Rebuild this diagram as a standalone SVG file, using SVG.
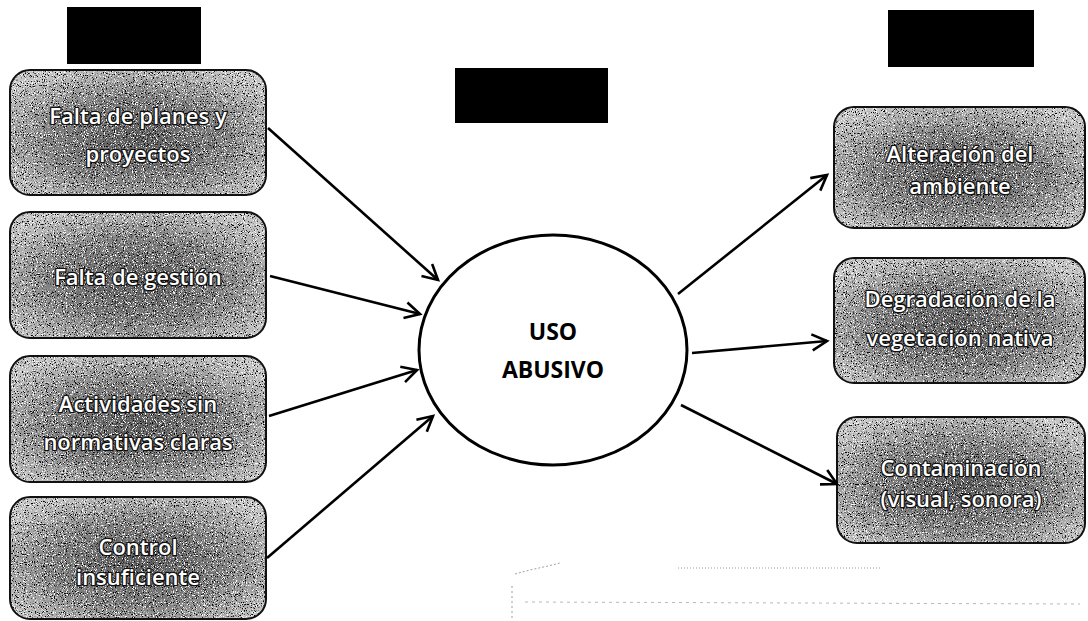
<svg xmlns="http://www.w3.org/2000/svg" width="1088" height="621" viewBox="0 0 1088 621">
<style>
.box{stroke:#111;stroke-width:2}
.lbl{font-family:"Open Sans","Liberation Sans",sans-serif;font-size:22px;font-weight:600;fill:#fff;stroke:#111;stroke-width:2.6;paint-order:stroke;stroke-linejoin:round;text-anchor:middle;dominant-baseline:central}
.conn line{stroke:#000;stroke-width:2.6;fill:none}
.ctr{font-family:"Open Sans","Liberation Sans",sans-serif;font-size:23px;font-weight:bold;fill:#000;text-anchor:middle}
</style>
<defs>
<radialGradient id="g" cx="50%" cy="55%" r="62%">
<stop offset="0" stop-color="#5a5a5a"/>
<stop offset="0.55" stop-color="#808080"/>
<stop offset="1" stop-color="#c4c4c4"/>
</radialGradient>
<filter id="wn" x="0" y="0" width="1" height="1">
<feTurbulence type="fractalNoise" baseFrequency="0.9" numOctaves="2" seed="4" result="n"/>
<feColorMatrix in="n" type="matrix" values="0 0 0 0 1 0 0 0 0 1 0 0 0 0 1 7 0 0 0 -3.9" result="w"/>
<feComposite in="w" in2="SourceGraphic" operator="in"/>
</filter>
<filter id="bn" x="0" y="0" width="1" height="1">
<feTurbulence type="fractalNoise" baseFrequency="0.9" numOctaves="2" seed="9" result="n"/>
<feColorMatrix in="n" type="matrix" values="0 0 0 0 0 0 0 0 0 0 0 0 0 0 0 0 7 0 0 -4.1" result="b"/>
<feComposite in="b" in2="SourceGraphic" operator="in"/>
</filter>
<marker id="ah" markerUnits="userSpaceOnUse" markerWidth="40" markerHeight="40" viewBox="-20 -20 40 40" refX="0" refY="0" orient="auto">
<path d="M-15,-8 L0,0 L-15,8" fill="none" stroke="#000" stroke-width="2.6" stroke-linejoin="miter"/>
</marker>
</defs>
<rect width="1088" height="621" fill="#fff"/>

<g id="heading-left"><rect x="67" y="7" width="134" height="57" fill="#000"/></g>
<g id="heading-center"><rect x="455" y="68" width="153" height="55" fill="#000"/></g>
<g id="heading-right"><rect x="888" y="10" width="146" height="57" fill="#000"/></g>

<g id="cause1">
<rect x="10" y="70" width="256" height="125" rx="20" fill="url(#g)"/>
<rect x="10" y="70" width="256" height="125" rx="20" filter="url(#wn)"/>
<rect x="10" y="70" width="256" height="125" rx="20" filter="url(#bn)"/>
<rect class="box" x="10" y="70" width="256" height="125" rx="20" fill="none"/>
<text class="lbl" x="138" y="115">Falta de planes y</text>
<text class="lbl" x="138" y="153">proyectos</text>
</g>
<g id="cause2">
<rect x="10" y="212" width="256" height="126" rx="20" fill="url(#g)"/>
<rect x="10" y="212" width="256" height="126" rx="20" filter="url(#wn)"/>
<rect x="10" y="212" width="256" height="126" rx="20" filter="url(#bn)"/>
<rect class="box" x="10" y="212" width="256" height="126" rx="20" fill="none"/>
<text class="lbl" x="138" y="276">Falta de gestión</text>
</g>
<g id="cause3">
<rect x="10" y="356" width="256" height="126" rx="20" fill="url(#g)"/>
<rect x="10" y="356" width="256" height="126" rx="20" filter="url(#wn)"/>
<rect x="10" y="356" width="256" height="126" rx="20" filter="url(#bn)"/>
<rect class="box" x="10" y="356" width="256" height="126" rx="20" fill="none"/>
<text class="lbl" x="138" y="403">Actividades sin</text>
<text class="lbl" x="138" y="441">normativas claras</text>
</g>
<g id="cause4">
<rect x="10" y="497" width="256" height="122" rx="20" fill="url(#g)"/>
<rect x="10" y="497" width="256" height="122" rx="20" filter="url(#wn)"/>
<rect x="10" y="497" width="256" height="122" rx="20" filter="url(#bn)"/>
<rect class="box" x="10" y="497" width="256" height="122" rx="20" fill="none"/>
<text class="lbl" x="138" y="546">Control</text>
<text class="lbl" x="138" y="576">insuficiente</text>
</g>

<g id="center">
<ellipse cx="553" cy="350" rx="134" ry="115" fill="#fff" stroke="#000" stroke-width="3"/>
<text class="ctr" x="553" y="340">USO</text>
<text class="ctr" x="553" y="378">ABUSIVO</text>
</g>

<g id="effect1">
<rect x="834" y="107" width="251" height="121" rx="20" fill="url(#g)"/>
<rect x="834" y="107" width="251" height="121" rx="20" filter="url(#wn)"/>
<rect x="834" y="107" width="251" height="121" rx="20" filter="url(#bn)"/>
<rect class="box" x="834" y="107" width="251" height="121" rx="20" fill="none"/>
<text class="lbl" x="960" y="153">Alteración del</text>
<text class="lbl" x="960" y="185">ambiente</text>
</g>
<g id="effect2">
<rect x="834" y="258" width="251" height="125" rx="20" fill="url(#g)"/>
<rect x="834" y="258" width="251" height="125" rx="20" filter="url(#wn)"/>
<rect x="834" y="258" width="251" height="125" rx="20" filter="url(#bn)"/>
<rect class="box" x="834" y="258" width="251" height="125" rx="20" fill="none"/>
<text class="lbl" x="960" y="298">Degradación de la</text>
<text class="lbl" x="960" y="337">vegetación nativa</text>
</g>
<g id="effect3">
<rect x="837" y="417" width="248" height="126" rx="20" fill="url(#g)"/>
<rect x="837" y="417" width="248" height="126" rx="20" filter="url(#wn)"/>
<rect x="837" y="417" width="248" height="126" rx="20" filter="url(#bn)"/>
<rect class="box" x="837" y="417" width="248" height="126" rx="20" fill="none"/>
<text class="lbl" x="961" y="467">Contaminación</text>
<text class="lbl" x="961" y="498">(visual, sonora)</text>
</g>

<g id="connectors" class="conn">
<line x1="268" y1="128" x2="438" y2="280" marker-end="url(#ah)"/>
<line x1="270" y1="276" x2="420" y2="314" marker-end="url(#ah)"/>
<line x1="269" y1="416" x2="417" y2="370" marker-end="url(#ah)"/>
<line x1="267" y1="558" x2="433" y2="416" marker-end="url(#ah)"/>
<line x1="678" y1="294" x2="827" y2="175" marker-end="url(#ah)"/>
<line x1="692" y1="353" x2="827" y2="341" marker-end="url(#ah)"/>
<line x1="681" y1="405" x2="837" y2="484" marker-end="url(#ah)"/>
</g>

<g id="scribble" stroke="#777" stroke-width="1" fill="none" opacity="0.7">
<path d="M515 574 L530 570 L548 566 L560 563" stroke-dasharray="2 2"/>
<path d="M678 568 L880 568" stroke-dasharray="1 2"/>
<path d="M525 602 L1080 604" stroke-dasharray="3 4" stroke="#999"/>
<path d="M512 586 L512 621" stroke-dasharray="2 3"/>
</g>
</svg>
